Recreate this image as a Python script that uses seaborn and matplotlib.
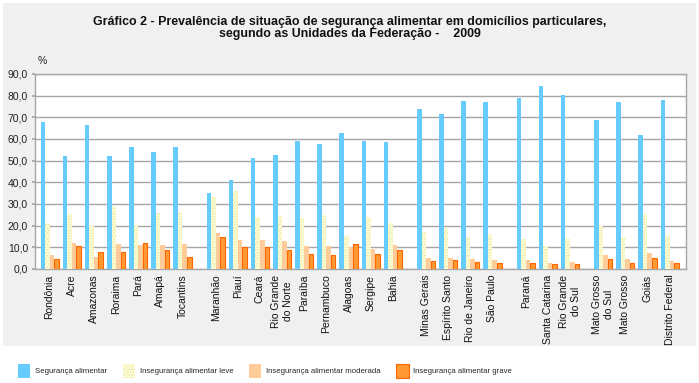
import numpy as np
import pandas as pd
import matplotlib
matplotlib.use("Agg")
import matplotlib.pyplot as plt
from matplotlib.patches import Rectangle, Patch
import seaborn as sns

# ---------------- data ----------------
states = ["Rondônia", "Acre", "Amazonas", "Roraima", "Pará", "Amapá", "Tocantins",
          "Maranhão", "Piauí", "Ceará", "Rio Grande\ndo Norte", "Paraíba", "Pernambuco",
          "Alagoas", "Sergipe", "Bahia",
          "Minas Gerais", "Espírito Santo", "Rio de Janeiro", "São Paulo",
          "Paraná", "Santa Catarina", "Rio Grande\ndo Sul",
          "Mato Grosso\ndo Sul", "Mato Grosso", "Goiás", "Distrito Federal"]
region_sizes = [7, 9, 4, 3, 4]

seguranca = [67.8, 52.2, 66.3, 52.2, 56.3, 54.2, 56.3,
             35.1, 41.1, 51.2, 52.6, 58.9, 57.7, 62.6, 59.2, 58.5,
             73.8, 71.7, 77.5, 77.1,
             78.8, 84.5, 80.2,
             68.8, 77.1, 61.7, 78.0]
leve = [21.4, 25.2, 19.8, 28.8, 20.5, 25.7, 26.3,
        33.4, 36.0, 24.2, 25.1, 23.5, 25.1, 15.2, 23.8, 21.4,
        17.2, 19.1, 14.8, 16.2,
        13.8, 10.6, 13.8,
        20.0, 14.8, 25.5, 15.2]
moderada = [6.5, 12.0, 5.7, 11.7, 11.1, 11.1, 11.7,
            16.6, 13.2, 13.4, 13.1, 10.8, 10.6, 10.2, 9.2, 11.1,
            5.2, 5.2, 4.6, 4.2,
            4.2, 2.9, 3.4,
            6.5, 4.8, 7.5, 3.7]
grave = [4.5, 10.6, 7.8, 7.8, 12.0, 8.9, 5.7,
         14.8, 10.0, 10.0, 8.9, 6.9, 6.5, 11.5, 6.9, 8.9,
         3.7, 4.0, 3.4, 2.9,
         2.9, 2.5, 2.5,
         4.5, 2.9, 5.2, 2.9]

series_names = ["Segurança alimentar", "Insegurança alimentar leve",
                "Insegurança alimentar moderada", "Insegurança alimentar grave"]
y_ticks = [0, 10, 20, 30, 40, 50, 60, 70, 80, 90]

title = ("Gráfico 2 - Prevalência de situação de segurança alimentar em domicílios particulares,\n"
         "segundo as Unidades da Federação -    2009")

# ---------------- layout helpers ----------------
region_idx = np.repeat(np.arange(len(region_sizes)), region_sizes)
positions = np.arange(len(states)) + 0.5 * region_idx

rows = []
for name, vals in zip(series_names, [seguranca, leve, moderada, grave]):
    for p, v in zip(positions, vals):
        rows.append({"pos": p, "serie": name, "valor": v})
df = pd.DataFrame(rows)

colors = {"Segurança alimentar": "#66CCFF",
          "Insegurança alimentar leve": "#FFFFD6",
          "Insegurança alimentar moderada": "#FFCC99",
          "Insegurança alimentar grave": "#FF9933"}

sns.set_theme(style="white")
plt.rcParams["font.family"] = ["Liberation Sans", "DejaVu Sans"]
plt.rcParams["hatch.linewidth"] = 0.8

fig = plt.figure(figsize=(6.99, 3.83), dpi=100)
fig.patch.set_facecolor("white")
fig.patches.append(Rectangle((3 / 699, 1 - 346 / 383), 693 / 699, 343 / 383,
                             transform=fig.transFigure, facecolor="#F0F0F0",
                             edgecolor="none", zorder=-10))

ax = fig.add_axes([35 / 699, 1 - 269 / 383, (686 - 35) / 699, (269 - 74) / 383])
ax.set_facecolor("white")

sns.barplot(data=df, x="pos", y="valor", hue="serie", hue_order=series_names,
            palette=colors, native_scale=True, width=0.82, dodge=True,
            saturation=1, errorbar=None, legend=False, ax=ax, zorder=3)

n = len(states)
for i, bar in enumerate(ax.patches):
    s = i // n
    bar.set_linewidth(0)
    if s == 1:
        bar.set_hatch("......")
        bar.set_edgecolor("#E8E2A8")
    elif s == 3:
        bar.set_edgecolor("#FF6600")
        bar.set_linewidth(0.8)

ax.set_ylim(0, 90)
ax.set_xlim(-0.66, positions[-1] + 0.74)
ax.set_yticks(y_ticks)
ax.set_yticklabels([f"{v:.1f}".replace(".", ",") for v in y_ticks], fontsize=7.5,
                   color="#222222")
ax.set_xticks(positions)
ax.set_xticklabels(states, rotation=90, fontsize=7.5, color="#111111",
                   ha="center", va="top", multialignment="center")
ax.yaxis.grid(True, color="#A6A6A6", linewidth=1.0, zorder=0)
ax.set_axisbelow(True)
ax.tick_params(axis="x", length=0, pad=4)
ax.tick_params(axis="y", length=2, pad=3, color="#A6A6A6", left=True)
for sp in ax.spines.values():
    sp.set_color("#A6A6A6")
    sp.set_linewidth(1.0)
ax.set_xlabel("")
ax.set_ylabel("")

fig.text(42 / 699, 1 - 61 / 383, "%", fontsize=7.5, ha="center", va="center",
         color="#222222")
fig.text(350 / 699, 1 - 16 / 383, title, fontsize=8.9, fontweight="bold",
         ha="center", va="top", linespacing=1.02, color="#111111")

handles = []
for name in series_names:
    if name == "Insegurança alimentar leve":
        handles.append(Patch(facecolor=colors[name], edgecolor="#E8E2A8",
                             hatch="......", linewidth=0))
    elif name == "Insegurança alimentar grave":
        handles.append(Patch(facecolor=colors[name], edgecolor="#FF6600",
                             linewidth=0.8))
    else:
        handles.append(Patch(facecolor=colors[name], edgecolor="none"))

fig.legend(handles, series_names, loc="center", ncol=4,
           bbox_to_anchor=(265 / 699, 1 - 371 / 383), frameon=False,
           fontsize=5.6, handlelength=1.6, handleheight=2.2,
           handletextpad=0.6, columnspacing=2.0)

fig.savefig("out.png", dpi=100, facecolor="white")
